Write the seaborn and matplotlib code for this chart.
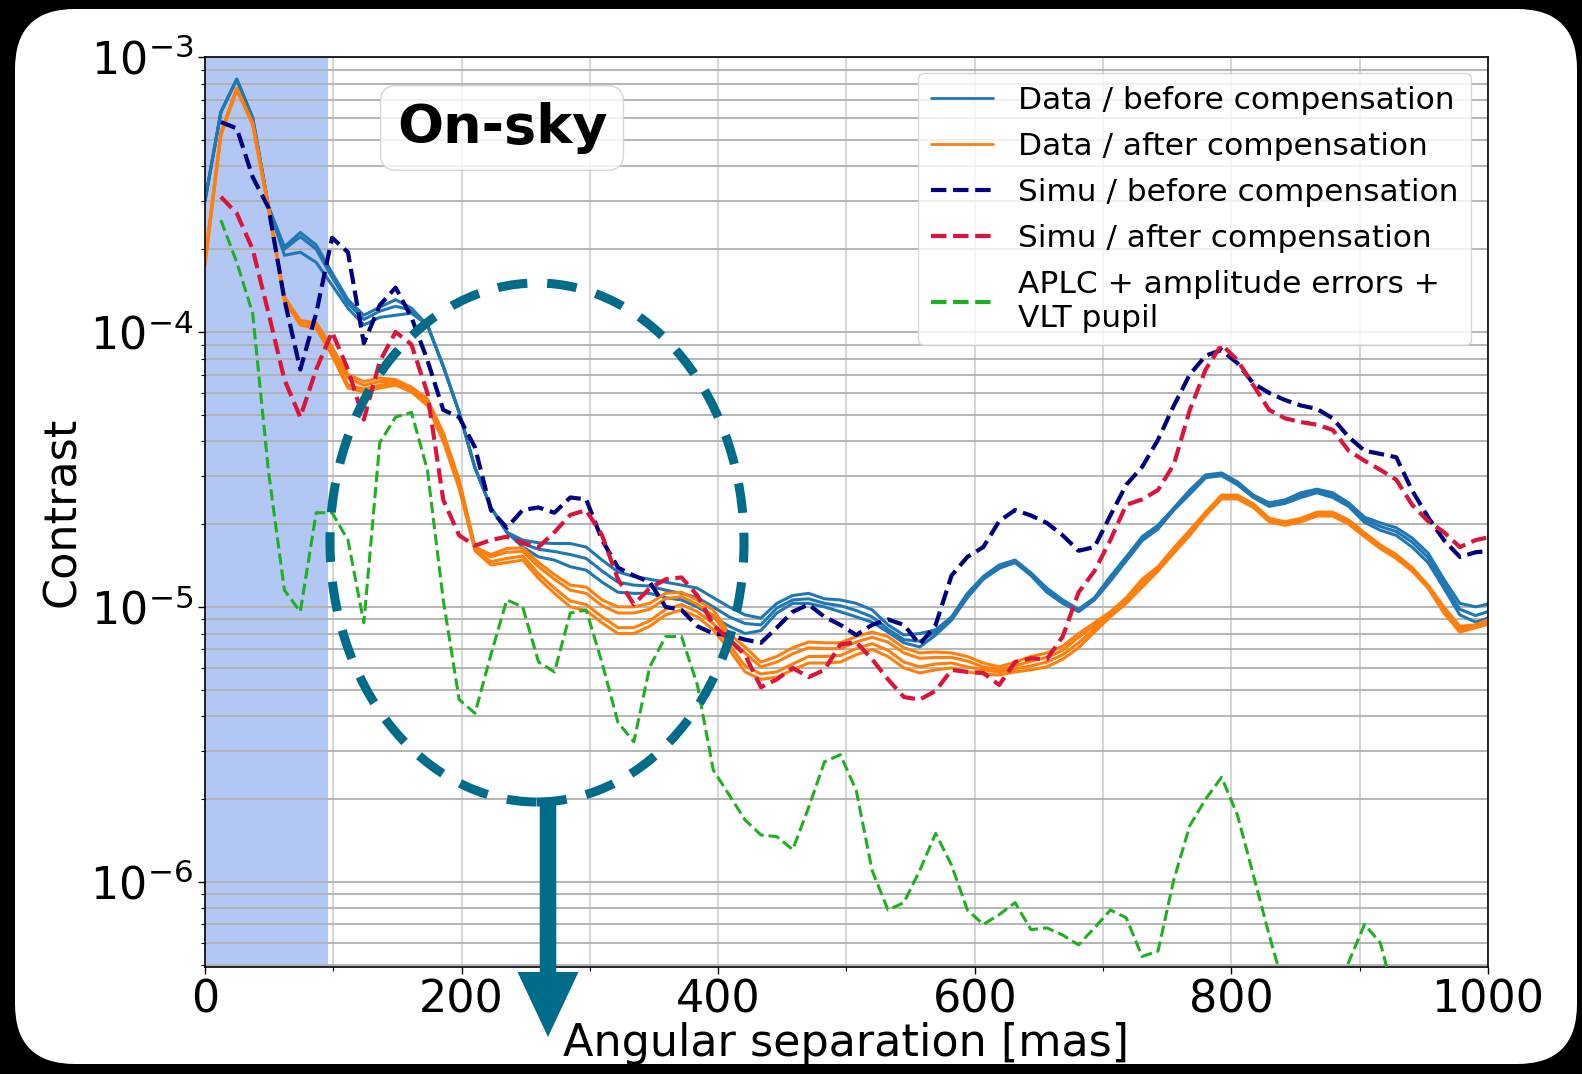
import numpy as np
import pandas as pd
import matplotlib
matplotlib.use("Agg")
import matplotlib.pyplot as plt
import seaborn as sns
from matplotlib.lines import Line2D
from matplotlib.patches import Ellipse, FancyArrow, FancyBboxPatch
from matplotlib.ticker import MultipleLocator

sns.set_theme(style="ticks")
plt.rcParams["font.family"] = ["DejaVu Sans"]
plt.rcParams["mathtext.fontset"] = "dejavusans"
for key in ["text.color", "axes.labelcolor", "xtick.color", "ytick.color",
            "axes.edgecolor"]:
    plt.rcParams[key] = "black"

# contrast values are stored in units of 1e-6
UNIT = 1e-6
separation = np.arange(82) * 12.38  # mas, radial sampling step of the profiles

before_a = [300, 630, 830, 600, 285, 204, 230, 207, 164, 131,
            115, 123, 131, 122, 106, 75, 51, 32, 23, 18.7,
            17.5, 17.1, 17.0, 17.0, 16.5, 14.8, 13.4, 12.9, 12.6, 12.3,
            12.0, 11.7, 10.8, 10.0, 9.35, 9.1, 10.3, 11.0, 11.2, 10.7,
            10.6, 10.3, 9.75, 8.6, 7.9, 8.0, 8.25, 9.2, 11.2, 12.9,
            14.2, 14.8, 13.3, 11.7, 10.6, 9.8, 10.8, 12.9, 15.2, 18.0,
            19.8, 22.9, 26.6, 30.2, 30.7, 28.5, 25.5, 23.9, 24.5, 26.0,
            26.8, 26.0, 23.9, 21.2, 20.2, 19.4, 17.8, 15.7, 12.6, 10.3,
            10.0, 10.3]
before_b = [300, 630, 830, 600, 285, 200, 222, 200, 158, 127,
            111, 119, 124, 120, 106, 75, 51, 32, 23, 18.7,
            17.0, 16.2, 15.9, 15.5, 15.0, 13.5, 12.3, 12.0, 11.9, 11.5,
            11.2, 10.8, 10.0, 9.2, 8.7, 8.6, 9.9, 10.6, 10.7, 10.3,
            10.1, 9.7, 9.2, 8.3, 7.6, 7.5, 8.1, 9.1, 11.0, 12.8,
            14.0, 14.6, 13.1, 11.5, 10.4, 9.7, 10.7, 12.6, 15.0, 17.7,
            19.5, 22.7, 26.1, 29.8, 30.3, 28.1, 25.2, 23.5, 24.1, 25.5,
            26.4, 25.5, 23.5, 20.8, 19.6, 18.8, 17.2, 15.1, 12.1, 9.8,
            9.3, 9.7]
before_c = [300, 630, 830, 600, 285, 190, 195, 179, 148, 122,
            106, 113, 115, 117, 106, 75, 51, 32, 23, 18.7,
            16.5, 15.2, 14.8, 14.0, 13.6, 12.3, 11.3, 11.2, 11.2, 10.8,
            10.6, 10.0, 9.2, 8.5, 8.0, 8.2, 9.5, 10.3, 10.3, 10.0,
            9.6, 9.2, 8.8, 8.1, 7.4, 7.15, 7.9, 8.95, 10.8, 12.6,
            13.8, 14.5, 13.0, 11.3, 10.3, 9.6, 10.6, 12.4, 14.7, 17.4,
            19.2, 22.5, 25.7, 29.5, 30.0, 27.8, 25.0, 23.2, 23.8, 25.0,
            26.0, 25.0, 23.2, 20.3, 19.0, 18.2, 16.5, 14.5, 11.7, 9.35,
            8.8, 9.2]

after_a = [183, 530, 770, 575, 285, 134, 110, 108, 88, 70,
           66, 68, 67, 63, 57, 43, 29, 16.5, 15.5, 16.3,
           16.4, 14.5, 13.1, 12.0, 11.8, 10.6, 10.0, 10.0, 10.3, 11.2,
           11.3, 10.6, 9.75, 8.0, 7.15, 6.3, 6.6, 7.1, 7.45, 7.4,
           7.4, 7.8, 8.1, 7.8, 7.1, 6.8, 6.85, 6.8, 6.6, 6.25,
           6.05, 6.3, 6.6, 6.8, 7.2, 8.0, 8.75, 9.6, 10.8, 12.6,
           14.0, 16.4, 19.0, 22.1, 25.5, 25.5, 23.7, 21.0, 20.4, 21.0,
           22.1, 22.1, 20.7, 18.6, 16.8, 15.5, 13.9, 12.0, 10.0, 8.5,
           8.6, 9.1]
after_b = [181, 528, 768, 574, 284, 133, 109, 107, 86, 68,
           64, 66, 66, 62, 56, 42, 28.5, 16.4, 15.2, 15.8,
           15.9, 14.0, 12.6, 11.5, 11.2, 10.1, 9.5, 9.5, 9.8, 10.7,
           10.9, 10.2, 9.3, 7.7, 6.8, 6.05, 6.3, 6.75, 7.1, 7.05,
           7.05, 7.45, 7.75, 7.45, 6.8, 6.5, 6.55, 6.55, 6.35, 6.05,
           5.9, 6.1, 6.35, 6.55, 6.95, 7.75, 8.55, 9.5, 10.65, 12.4,
           13.85, 16.2, 18.8, 21.9, 25.3, 25.3, 23.5, 20.8, 20.2, 20.8,
           21.9, 21.9, 20.5, 18.4, 16.6, 15.3, 13.75, 11.9, 9.85, 8.4,
           8.55, 8.95]
after_c = [177, 522, 762, 571, 281, 131, 107, 104, 84, 64,
           62, 64, 65, 61, 55, 41, 27.5, 16.2, 14.6, 15.0,
           15.3, 13.2, 11.7, 10.5, 10.2, 9.2, 8.4, 8.4, 8.9, 9.8,
           10.2, 9.6, 8.7, 7.3, 6.1, 5.7, 5.8, 6.2, 6.6, 6.6,
           6.65, 7.05, 7.35, 6.95, 6.3, 6.05, 6.2, 6.25, 6.05, 5.9,
           5.8, 5.95, 6.1, 6.3, 6.7, 7.4, 8.3, 9.35, 10.45, 12.0,
           13.7, 15.9, 18.4, 21.7, 24.9, 24.9, 23.2, 20.6, 20.0, 20.6,
           21.6, 21.6, 20.2, 18.2, 16.45, 15.15, 13.6, 11.8, 9.65, 8.25,
           8.45, 8.8]
after_d = [175, 520, 760, 570, 280, 130, 106, 103, 82, 62.5,
           60.5, 62.5, 64, 60.5, 54, 40, 27, 16.0, 14.2, 14.5,
           14.8, 12.7, 11.2, 10.0, 9.7, 8.75, 8.0, 8.0, 8.5, 9.35,
           9.75, 9.2, 8.25, 7.0, 5.8, 5.45, 5.55, 5.9, 6.25, 6.25,
           6.3, 6.7, 7.0, 6.6, 6.0, 5.75, 5.9, 6.0, 5.8, 5.7,
           5.65, 5.8, 5.9, 6.05, 6.45, 7.1, 8.1, 9.2, 10.3, 11.8,
           13.5, 15.7, 18.2, 21.5, 24.7, 24.7, 23.0, 20.4, 19.8, 20.4,
           21.4, 21.4, 20.0, 18.0, 16.3, 15.0, 13.5, 11.7, 9.5, 8.1,
           8.4, 8.7]

simu_before = [np.nan, 580, 550, 366, 283, 131, 73, 117, 220, 195,
               91, 125, 145, 113, 79, 52, 49, 38, 22.5, 19.4,
               22.5, 23.0, 22.0, 25.0, 24.6, 17.5, 13.9, 13.0, 12.3, 10.0,
               9.75, 8.5, 8.0, 7.9, 7.6, 7.4, 8.4, 9.6, 10.2, 9.2,
               8.6, 7.9, 8.6, 9.0, 8.6, 7.3, 8.6, 13.0, 15.2, 16.5,
               20.5, 22.5, 21.5, 20.2, 18.2, 16.0, 16.5, 21.5, 27.8, 32.3,
               40.5, 54, 70, 82, 86, 77, 65, 60, 56.5, 54,
               52.5, 48.5, 41.5, 37, 36, 35, 26.5, 21.2, 17.5, 15.2,
               15.8, 16.0]
simu_after = [np.nan, 310, 270, 200, 117, 67, 49, 73, 100, 73,
              48, 78, 100, 90, 60, 24.5, 18.2, 16.7, 17.5, 18.0,
              17.1, 16.5, 18.7, 21.6, 22.5, 18.2, 12.6, 10.2, 11.7, 12.6,
              12.8, 11.0, 8.6, 7.6, 6.7, 5.1, 5.45, 6.0, 5.55, 5.9,
              7.3, 7.45, 6.45, 5.45, 4.7, 4.6, 4.95, 5.9, 5.8, 5.75,
              5.2, 6.3, 6.5, 6.45, 7.8, 11.3, 13.5, 17.5, 23.5, 24.6,
              26.6, 33, 52, 73, 90, 79, 64, 52, 48.5, 47,
              46, 44, 37, 34, 31.5, 29, 23.5, 20.5, 18.7, 16.5,
              17.5, 18.0]
aplc_model = [np.nan, 255, 179, 117, 31, 11.5, 9.6, 22, 22, 17.5,
              8.75, 39.5, 49, 51, 31.5, 10.6, 4.6, 4.1, 6.7, 10.6,
              10.0, 6.3, 5.8, 9.5, 9.75, 6.25, 3.8, 3.23, 6.05, 7.8,
              7.8, 5.2, 2.55, 2.07, 1.68, 1.48, 1.46, 1.31, 1.86, 2.73,
              2.9, 2.15, 1.1, 0.79, 0.84, 1.1, 1.5, 1.15, 0.79, 0.70,
              0.76, 0.84, 0.67, 0.68, 0.64, 0.59, 0.68, 0.79, 0.74, 0.535,
              0.56, 1.02, 1.6, 2.0, 2.4, 1.75, 1.06, 0.64, 0.40, 0.32,
              0.34, 0.38, 0.51, 0.70, 0.60, 0.36, 0.30, 0.28, 0.30, 0.32,
              0.30, 0.30]

legend_labels = ["Data / before compensation",
                 "Data / after compensation",
                 "Simu / before compensation",
                 "Simu / after compensation",
                 "APLC + amplitude errors +\nVLT pupil"]

C_BEFORE = "#1f77b4"
C_AFTER = "#ff7f0e"
C_SIMU_BEFORE = "navy"
C_SIMU_AFTER = "crimson"
C_APLC = "#1eb01e"
TEAL = "#006c8a"
SHADE = "#b3c7f4"


def runs_frame(runs):
    """Long-form table with one 'run' id per repeated measurement."""
    return pd.DataFrame({
        "separation": np.tile(separation, len(runs)),
        "contrast": np.concatenate([np.asarray(r, float) for r in runs]) * UNIT,
        "run": np.repeat(np.arange(len(runs)), len(separation)),
    })


fig = plt.figure(figsize=(15.82, 10.74), dpi=100, facecolor="black")
card = FancyBboxPatch((0.15, 0.10), 15.62, 10.55,
                      boxstyle="round,pad=0,rounding_size=0.6",
                      transform=fig.dpi_scale_trans,
                      fc="white", ec="none", zorder=-1)
fig.add_artist(card)

ax = fig.add_axes([0.12958, 0.09963, 0.81100, 0.84730])
ax.set_yscale("log")
ax.set_xlim(0, 1000)
ax.set_ylim(4.9e-7, 1e-3)

ax.axvspan(0, 96, color=SHADE, lw=0, zorder=1)

ax.set_axisbelow("line")
ax.xaxis.set_major_locator(MultipleLocator(200))
ax.xaxis.set_minor_locator(MultipleLocator(100))
ax.grid(True, which="both", axis="y", color="#b0b0b0", lw=1.3)
ax.grid(True, which="both", axis="x", color="#d2d2d2", lw=1.3)

sns.lineplot(data=runs_frame([before_a, before_b, before_c]),
             x="separation", y="contrast", units="run", estimator=None,
             color=C_BEFORE, lw=2.2, legend=False, ax=ax, zorder=2)
sns.lineplot(data=runs_frame([after_a, after_b, after_c, after_d]),
             x="separation", y="contrast", units="run", estimator=None,
             color=C_AFTER, lw=2.2, legend=False, ax=ax, zorder=2)
sns.lineplot(x=separation, y=np.asarray(simu_before) * UNIT,
             color=C_SIMU_BEFORE, lw=3, linestyle="--", ax=ax, zorder=3)
sns.lineplot(x=separation, y=np.asarray(simu_after) * UNIT,
             color=C_SIMU_AFTER, lw=3, linestyle="--", ax=ax, zorder=3)
sns.lineplot(x=separation, y=np.asarray(aplc_model) * UNIT,
             color=C_APLC, lw=2.2, linestyle="--", ax=ax, zorder=3)
ax.set_xlim(0, 1000)

for side in ["left", "right", "top", "bottom"]:
    ax.spines[side].set_color("black")
    ax.spines[side].set_linewidth(1.2)
ax.tick_params(axis="both", which="major", labelsize=32, length=5,
               width=1, colors="black")
ax.tick_params(axis="both", which="minor", length=3, width=0.8,
               colors="black")

ax.set_xlabel("Angular separation [mas]", fontsize=32, labelpad=0)
ax.set_ylabel("Contrast", fontsize=32, labelpad=4)

handles = [Line2D([], [], color=C_BEFORE, lw=2),
           Line2D([], [], color=C_AFTER, lw=2),
           Line2D([], [], color=C_SIMU_BEFORE, lw=3, ls="--"),
           Line2D([], [], color=C_SIMU_AFTER, lw=3, ls="--"),
           Line2D([], [], color=C_APLC, lw=3, ls="--")]
leg = ax.legend(handles, legend_labels, loc="upper right",
                bbox_to_anchor=(0.9867, 0.9824), borderaxespad=0,
                fontsize=22.5, handlelength=2.0, handletextpad=0.8,
                labelspacing=0.55, framealpha=0.8, edgecolor="0.8",
                fancybox=True)
leg.set_zorder(6)

ax.text(0.2315, 0.922, "On-sky", transform=ax.transAxes,
        ha="center", va="center", fontsize=39, fontweight="bold",
        color="black",
        bbox=dict(boxstyle="round,pad=0.3", fc="white", ec="0.8",
                  alpha=0.8), zorder=6)

# highlighted region and pointer toward the axis label
ring = Ellipse((5.37, 5.315), 4.14, 5.19, transform=fig.dpi_scale_trans,
               fill=False, ec=TEAL, lw=6.5, ls=(0, (3.3, 2.2)), zorder=2)
fig.add_artist(ring)
pointer = FancyArrow(5.48, 2.73, 0, -2.36, width=0.165, head_width=0.61,
                     head_length=0.65, length_includes_head=True,
                     transform=fig.dpi_scale_trans, color=TEAL, lw=0,
                     zorder=2)
fig.add_artist(pointer)

fig.savefig("out.png", dpi=100, facecolor="black")
